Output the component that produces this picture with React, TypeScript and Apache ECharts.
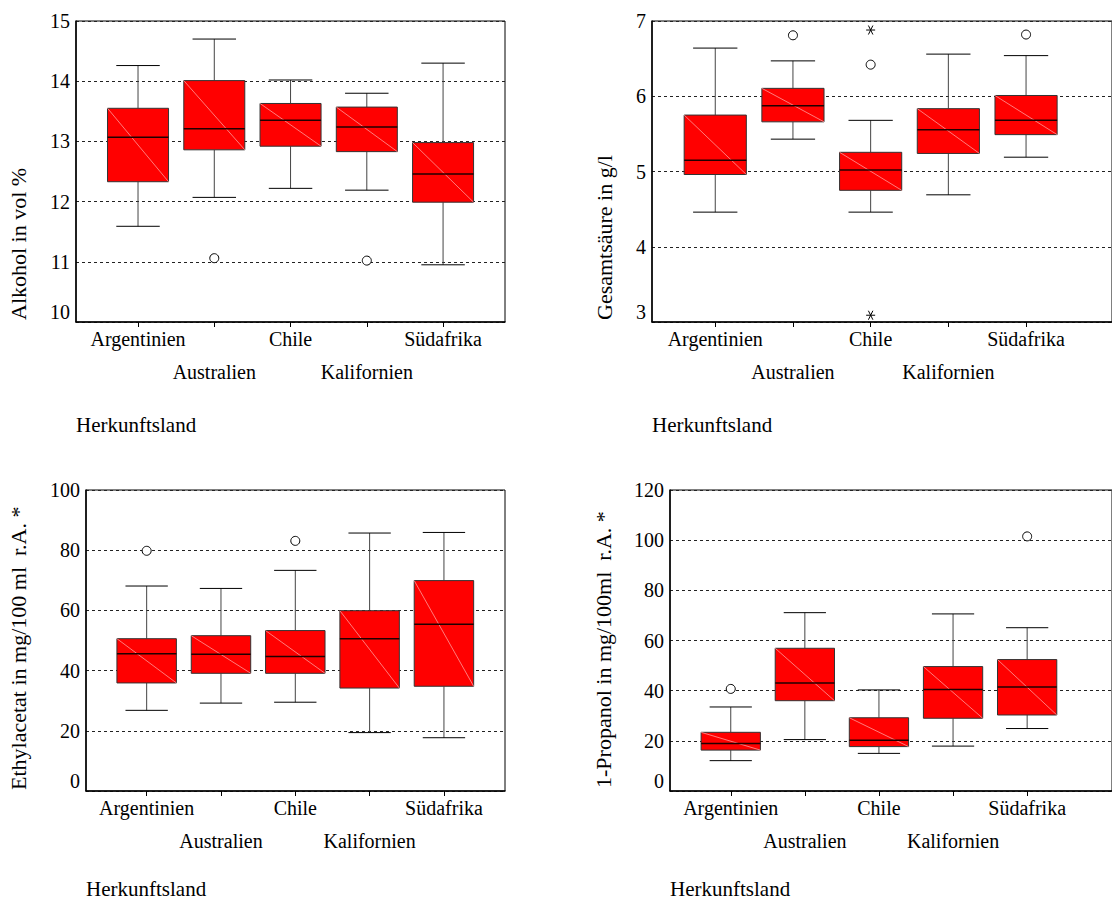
import React, { useEffect, useRef } from "react";
import * as echarts from "echarts";

const countries = ["Argentinien", "Australien", "Chile", "Kalifornien", "Südafrika"];

// [low whisker, Q1, median, Q3, high whisker]
const alkoholBoxes = [
  [11.59, 12.33, 13.07, 13.55, 14.26],
  [12.07, 12.86, 13.21, 14.01, 14.7],
  [12.22, 12.92, 13.35, 13.63, 14.02],
  [12.19, 12.83, 13.24, 13.57, 13.8],
  [10.95, 11.99, 12.46, 12.98, 14.3],
];
const alkoholOutliers = [[1, 11.06], [3, 11.02]];
const alkoholExtremes: number[][] = [];

const saeureBoxes = [
  [4.46, 4.96, 5.15, 5.75, 6.64],
  [5.43, 5.66, 5.875, 6.105, 6.47],
  [4.46, 4.75, 5.02, 5.255, 5.68],
  [4.69, 5.24, 5.556, 5.835, 6.56],
  [5.19, 5.49, 5.68, 6.01, 6.54],
];
const saeureOutliers = [[1, 6.81], [2, 6.42], [4, 6.82]];
const saeureExtremes = [[2, 6.88], [2, 3.09]];

const ethylBoxes = [
  [26.8, 35.9, 45.6, 50.6, 68.1],
  [29.2, 39.1, 45.4, 51.6, 67.3],
  [29.5, 39.1, 44.7, 53.3, 73.3],
  [19.4, 34.2, 50.6, 59.9, 85.7],
  [17.7, 34.8, 55.4, 69.9, 85.9],
];
const ethylOutliers = [[0, 79.8], [2, 83.1]];
const ethylExtremes: number[][] = [];

const propanolBoxes = [
  [12.1, 16.3, 18.9, 23.4, 33.5],
  [20.5, 36.0, 43.1, 56.9, 71.1],
  [15.0, 17.7, 20.2, 29.2, 40.3],
  [17.9, 29.0, 40.5, 49.6, 70.6],
  [24.9, 30.3, 41.5, 52.4, 65.1],
];
const propanolOutliers = [[0, 40.7], [4, 101.5]];
const propanolExtremes: number[][] = [];

const yTitles = [
  "Alkohol in vol %",
  "Gesamtsäure in g/l",
  "Ethylacetat in mg/100 ml  r.A. *",
  "1-Propanol in mg/100ml  r.A. *",
];
const yMins = [10, 3, 0, 0];
const yMaxs = [15, 7, 100, 120];
const yIntervals = [1, 1, 20, 20];
const xTitle = "Herkunftsland";

const FONT = '"Liberation Serif", "Times New Roman", serif';

const layouts = [
  { frame: { left: 76, top: 21, width: 429, height: 301 }, data: { left: 99.9, width: 381.3 }, tx: 18, ty: 320, hx: 76, hy: 425 },
  { frame: { left: 652, top: 21, width: 480, height: 301 }, data: { left: 676.4, width: 388.5 }, tx: 604, ty: 320, hx: 652, hy: 425 },
  { frame: { left: 86, top: 490, width: 419, height: 301 }, data: { left: 109.5, width: 371.6 }, tx: 18, ty: 790, hx: 86, hy: 889 },
  { frame: { left: 670, top: 490, width: 470, height: 301 }, data: { left: 693.7, width: 370.5 }, tx: 603, ty: 788, hx: 670, hy: 889 },
];

const allBoxes = [alkoholBoxes, saeureBoxes, ethylBoxes, propanolBoxes];
const allOutliers = [alkoholOutliers, saeureOutliers, ethylOutliers, propanolOutliers];
const allExtremes = [alkoholExtremes, saeureExtremes, ethylExtremes, propanolExtremes];

function renderBox(params: any, api: any) {
  const x = api.value(0);
  const low = api.coord([x, api.value(1)]);
  const q1 = api.coord([x, api.value(2)]);
  const med = api.coord([x, api.value(3)]);
  const q3 = api.coord([x, api.value(4)]);
  const high = api.coord([x, api.value(5)]);
  const band = api.size([1, 0])[0];
  const bw = band * 0.8;
  const cw = band * 0.57;
  const cx = low[0];
  const stem = { stroke: "#444", lineWidth: 1 };
  const cap = { stroke: "#000", lineWidth: 1 };
  return {
    type: "group",
    children: [
      { type: "line", shape: { x1: cx, y1: low[1], x2: cx, y2: q1[1] }, style: stem },
      { type: "line", shape: { x1: cx, y1: q3[1], x2: cx, y2: high[1] }, style: stem },
      { type: "line", shape: { x1: cx - cw / 2, y1: low[1], x2: cx + cw / 2, y2: low[1] }, style: cap },
      { type: "line", shape: { x1: cx - cw / 2, y1: high[1], x2: cx + cw / 2, y2: high[1] }, style: cap },
      {
        type: "rect",
        shape: { x: cx - bw / 2, y: q3[1], width: bw, height: q1[1] - q3[1] },
        style: { fill: "#ff0000", stroke: "#333", lineWidth: 1 },
      },
      {
        type: "line",
        shape: { x1: cx - bw / 2, y1: q3[1], x2: cx + bw / 2, y2: q1[1] },
        style: { stroke: "#ff9a9a", lineWidth: 0.8 },
      },
      {
        type: "line",
        shape: { x1: cx - bw / 2, y1: med[1], x2: cx + bw / 2, y2: med[1] },
        style: { stroke: "#200000", lineWidth: 1.5 },
      },
    ],
  };
}

function buildOption() {
  const grid: any[] = [];
  const xAxis: any[] = [];
  const yAxis: any[] = [];
  const series: any[] = [];
  const graphic: any[] = [];

  layouts.forEach((L, p) => {
    const fi = 2 * p;
    const di = 2 * p + 1;
    grid.push({
      left: L.frame.left, top: L.frame.top, width: L.frame.width, height: L.frame.height,
      show: true, borderColor: "#000", borderWidth: 1, backgroundColor: "transparent",
    });
    grid.push({ left: L.data.left, top: L.frame.top, width: L.data.width, height: L.frame.height });
    xAxis.push({
      type: "value", gridIndex: fi, min: 0, max: 1, position: "bottom",
      axisLine: { show: true, lineStyle: { color: "#000", width: 1.5 } },
      axisTick: { show: false }, axisLabel: { show: false }, splitLine: { show: false },
    });
    xAxis.push({
      type: "category", gridIndex: di, data: countries, boundaryGap: true, position: "bottom",
      axisLine: { show: false },
      axisTick: { show: true, alignWithLabel: true, length: 5, lineStyle: { color: "#000", width: 1 } },
      axisLabel: {
        interval: 0, hideOverlap: false, margin: 0, lineHeight: 33,
        fontSize: 20, fontFamily: FONT, color: "#000",
        formatter: (v: string, i: number) => (i % 2 === 1 ? "\n" + v : v),
      },
      splitLine: { show: false },
    });
    yAxis.push({
      type: "value", gridIndex: fi, min: yMins[p], max: yMaxs[p], interval: yIntervals[p],
      axisLine: { show: true, lineStyle: { color: "#000", width: 1.5 } },
      axisTick: { show: false },
      axisLabel: {
        fontSize: 20, fontFamily: FONT, color: "#000", margin: 6,
        verticalAlignMinLabel: "bottom",
      },
      splitLine: { show: true, lineStyle: { color: "#222", width: 1, type: [3, 3] } },
    });
    yAxis.push({
      type: "value", gridIndex: di, min: yMins[p], max: yMaxs[p], interval: yIntervals[p], show: false,
      splitLine: { show: false },
    });
    series.push({
      type: "custom", xAxisIndex: di, yAxisIndex: di,
      renderItem: renderBox,
      encode: { x: 0, y: [1, 2, 3, 4, 5] },
      data: allBoxes[p].map((b, i) => [i, ...b]),
      z: 2,
    });
    series.push({
      type: "scatter", xAxisIndex: di, yAxisIndex: di,
      symbol: "circle", symbolSize: 9,
      itemStyle: { color: "#fff", borderColor: "#000", borderWidth: 1, opacity: 1 },
      data: allOutliers[p],
      z: 3,
    });
    if (allExtremes[p].length) {
      series.push({
        type: "scatter", xAxisIndex: di, yAxisIndex: di,
        symbol: "path://M0,4L8,4M2,0.5L6,7.5M2,7.5L6,0.5", symbolSize: 9,
        itemStyle: { color: "none", borderColor: "#000", borderWidth: 1, opacity: 1 },
        data: allExtremes[p],
        z: 3,
      });
    }
    graphic.push({
      type: "text", x: L.tx, y: L.ty, rotation: Math.PI / 2,
      style: { text: yTitles[p], font: '22px "Liberation Serif"', fill: "#000", align: "left", verticalAlign: "middle" },
    });
    graphic.push({
      type: "text", x: L.hx, y: L.hy,
      style: { text: xTitle, font: '21px "Liberation Serif"', fill: "#000", align: "left", verticalAlign: "middle" },
    });
  });

  return {
    animation: false,
    backgroundColor: "#fff",
    textStyle: { fontFamily: FONT },
    grid, xAxis, yAxis, series, graphic,
  };
}

export default function App() {
  const ref = useRef<HTMLDivElement>(null);
  useEffect(() => {
    if (!ref.current) return;
    const chart = echarts.init(ref.current, undefined, { renderer: "svg" });
    chart.setOption(buildOption() as any);
    return () => chart.dispose();
  }, []);
  return <div ref={ref} style={{ position: "absolute", left: 0, top: 0, width: 1112, height: 903 }} />;
}
